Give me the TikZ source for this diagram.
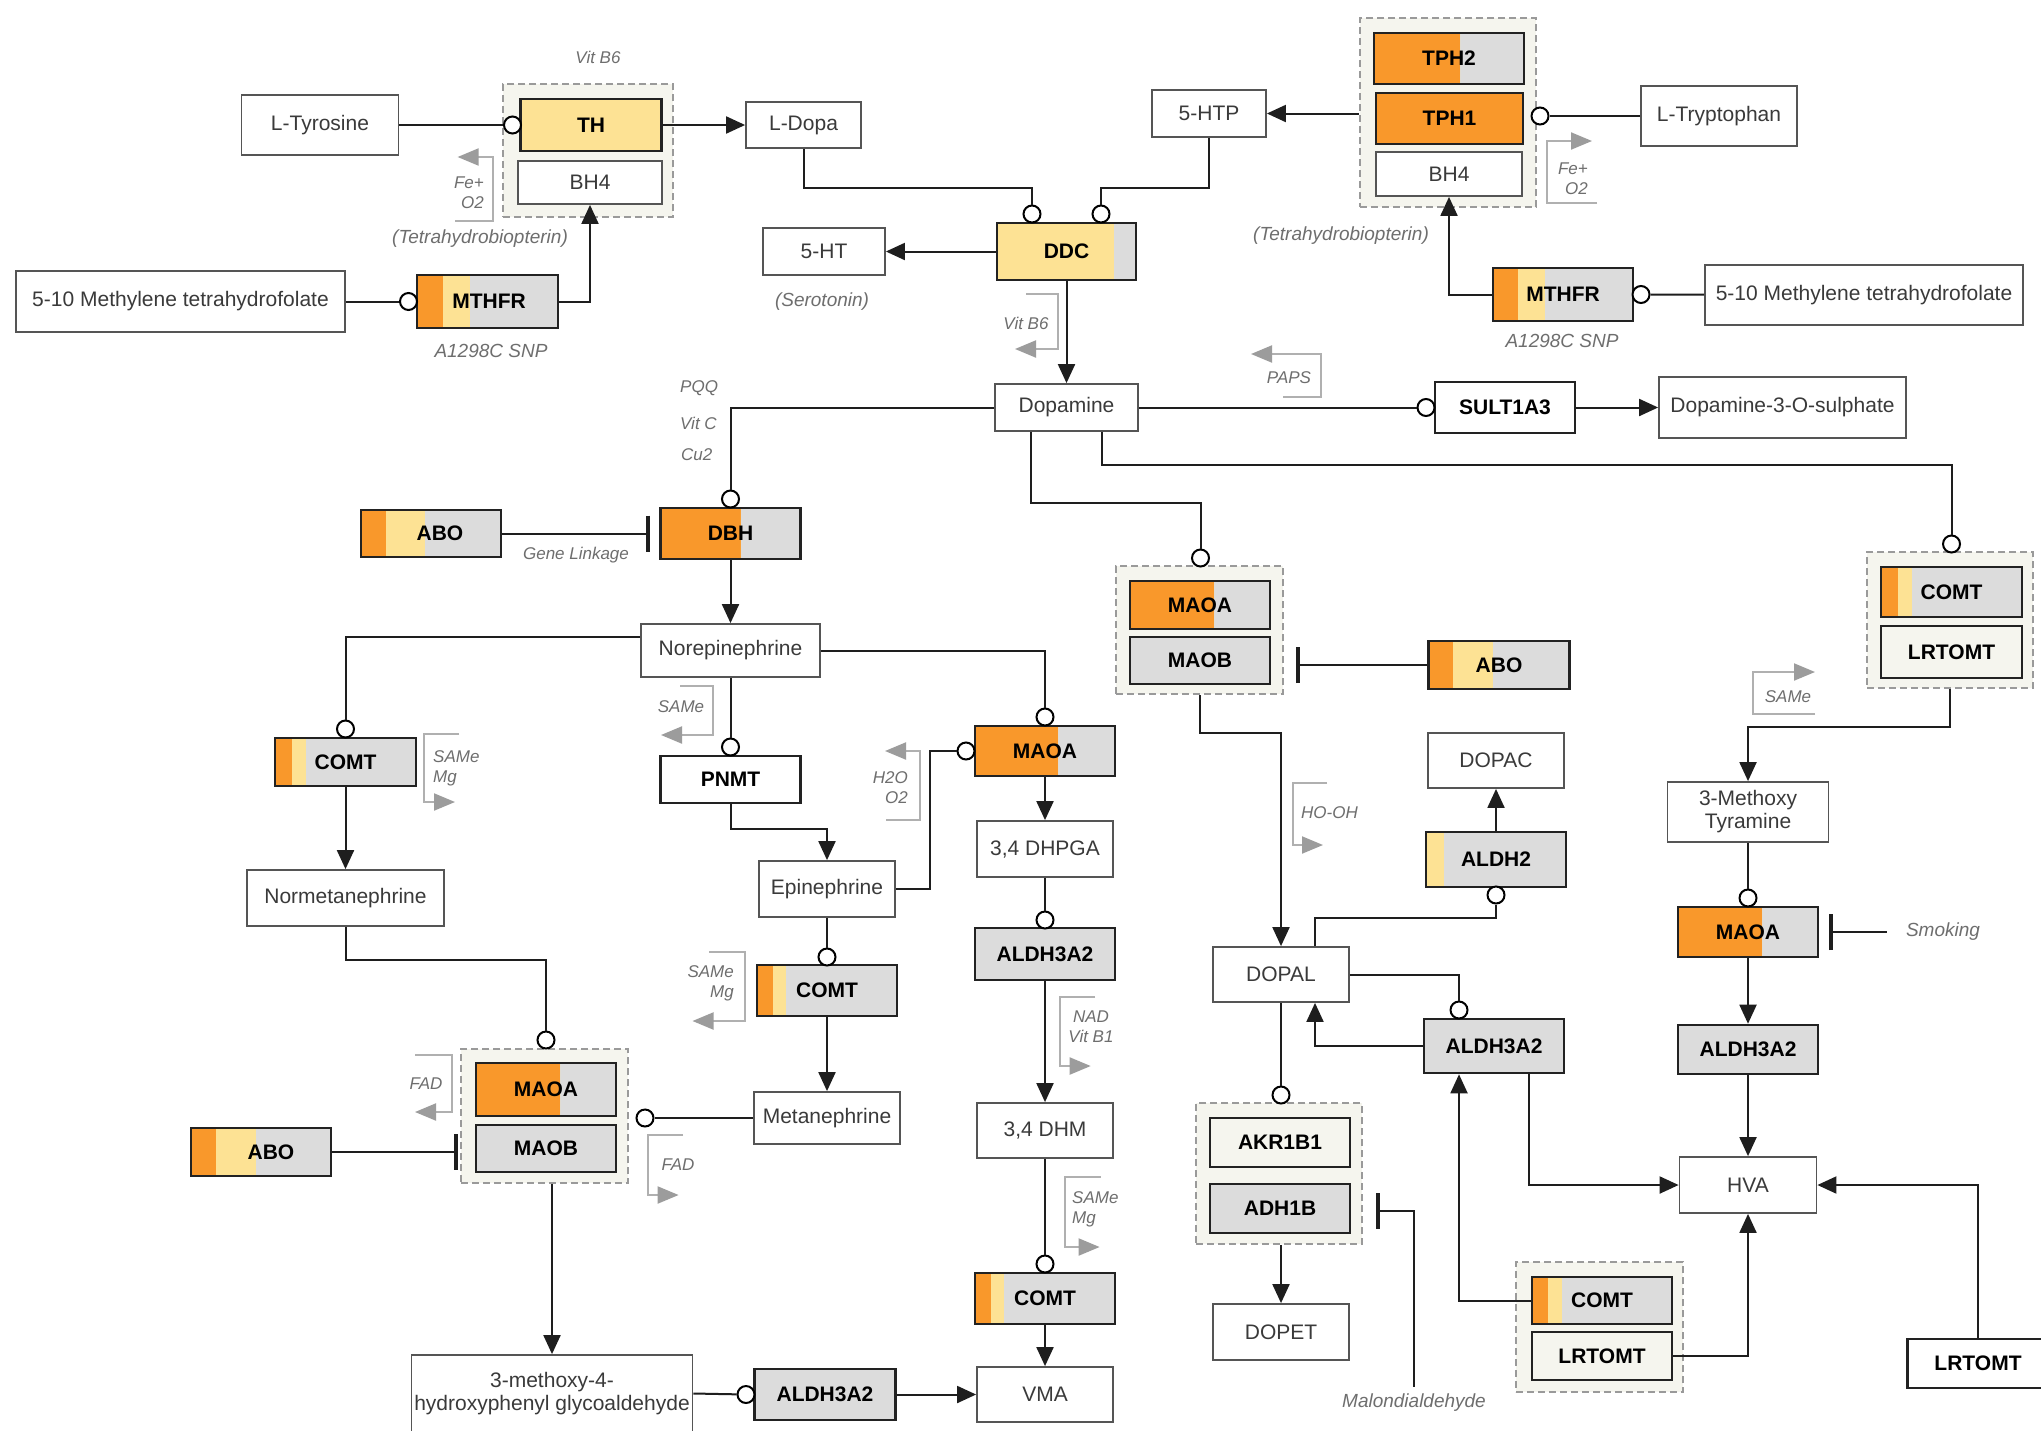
\documentclass[tikz,border=0pt]{standalone}
\usepackage{fontspec}
\setmainfont{Liberation Sans}
\usetikzlibrary{arrows.meta,calc}
\definecolor{cOr}{HTML}{F9982B}
\definecolor{cYe}{HTML}{FDE294}
\definecolor{cGr}{HTML}{DCDCDC}
\definecolor{cBg}{HTML}{F5F5EE}
\definecolor{cDash}{HTML}{9A9A9A}
\definecolor{cMetB}{HTML}{555555}
\definecolor{cGenB}{HTML}{222222}
\definecolor{cTxt}{HTML}{3A3A3A}
\definecolor{cLab}{HTML}{6E6E6E}
\definecolor{cLine}{HTML}{1E1E1E}
\definecolor{cBrk}{HTML}{B0B0B0}
\definecolor{cBrkA}{HTML}{9C9C9C}
\begin{document}
\begin{tikzpicture}[x=1pt,y=-1pt,
  sz/.style 2 args={minimum width=#1pt, minimum height=#2pt},
  met/.style={rectangle, draw=cMetB, line width=1.8pt, fill=white, text=cTxt, font=\fontsize{21}{23}\selectfont, inner sep=0pt, align=center},
  gene/.style={rectangle, draw=cGenB, line width=2.6pt, fill=cGr, text=black, font=\fontsize{21}{23}\selectfont\bfseries, inner sep=0pt},
  stripes/.style 2 args={path picture={
      \fill[cOr] (path picture bounding box.north west) rectangle ([xshift=#1pt]path picture bounding box.south west);
      \fill[cYe] ([xshift=#1pt]path picture bounding box.north west) rectangle ([xshift=#2pt]path picture bounding box.south west);}},
  grp/.style={rectangle, draw=cDash, line width=1.8pt, dash pattern=on 7pt off 4pt, fill=cBg, inner sep=0pt},
  cat/.style={circle, draw=black, line width=2pt, fill=white, minimum size=17pt, inner sep=0pt},
  conn/.style={draw=cLine, line width=2pt},
  arr/.style={conn, -{Triangle[length=19pt,width=17pt]}},
  inh/.style={conn, -{Bar[width=36pt,line width=3.5pt]}},
  cof/.style={draw=cBrk, line width=2pt, -{Triangle[length=21pt,width=17pt,color=cBrkA,fill=cBrkA]}},
  lab/.style={font=\fontsize{17}{20}\selectfont\itshape, text=cLab, inner sep=0pt, align=center},
  labL/.style={font=\fontsize{19}{22}\selectfont\itshape, text=cLab, inner sep=0pt, align=center}
]
\fill[white] (0,0) rectangle (2041,1430);
\useasboundingbox (0,0) rectangle (2041,1430);

% ---------- groups ----------
\node[grp, sz={170}{133}] (gTH) at (588,150.5) {};
\node[grp, sz={176}{189}] (gTPH) at (1448,112.5) {};
\node[grp, sz={167}{128}] (gMAO1) at (1199.5,630) {};
\node[grp, sz={166}{136}] (gCOMTR) at (1950,620) {};
\node[grp, sz={167}{134}] (gMAO2) at (544.5,1116) {};
\node[grp, sz={165.5}{141}] (gAKR) at (1279,1173.5) {};
\node[grp, sz={167}{130}] (gCOMTL) at (1599.5,1327) {};

% ---------- metabolites ----------
\node[met, sz={157}{60}] (ltyr) at (320,125) {L-Tyrosine};
\node[met, sz={115}{46}] (ldopa) at (803.5,125) {L-Dopa};
\node[met, sz={114}{47}] (htp) at (1209,113.5) {5-HTP};
\node[met, sz={156}{60}] (ltrp) at (1719,116) {L-Tryptophan};
\node[met, sz={329}{61}] (mthfL) at (180.5,301.5) {5-10 Methylene tetrahydrofolate};
\node[met, sz={318}{60}] (mthfR) at (1864,295) {5-10 Methylene tetrahydrofolate};
\node[met, sz={122}{47}] (ht) at (824,251.5) {5-HT};
\node[met, sz={143}{47}] (dopa) at (1066.5,407.5) {Dopamine};
\node[met, sz={247}{61}] (d3os) at (1782.5,407.5) {Dopamine-3-O-sulphate};
\node[met, sz={179}{53}] (norepi) at (730.5,650.5) {Norepinephrine};
\node[met, sz={197}{56}] (normet) at (345.5,898) {Normetanephrine};
\node[met, sz={136}{56}] (epi) at (827,889) {Epinephrine};
\node[met, sz={136}{56}] (dhpga) at (1045,849) {3,4 DHPGA};
\node[met, sz={136}{55}] (dopac) at (1496,760.5) {DOPAC};
\node[met, sz={161}{60}] (mty) at (1748,812) {3-Methoxy\\Tyramine};
\node[met, sz={136}{55}] (dopal) at (1281,974.5) {DOPAL};
\node[met, sz={146}{52}] (metan) at (827,1118) {Metanephrine};
\node[met, sz={136}{55}] (dhm) at (1045,1130.5) {3,4 DHM};
\node[met, sz={137}{56}] (hva) at (1748,1185) {HVA};
\node[met, sz={136}{56}] (dopet) at (1281,1332) {DOPET};
\node[met, sz={136}{55}] (vma) at (1045,1394.5) {VMA};
\node[met, sz={281}{77}] (mhpg) at (552,1393.5) {3-methoxy-4-\\hydroxyphenyl glycoaldehyde};
\node[met, sz={144}{43}] (bh4a) at (590,182.5) {BH4};
\node[met, sz={146}{44}] (bh4b) at (1449,174) {BH4};

% ---------- genes ----------
\node[gene, sz={141}{52}, fill=cYe] (th) at (591,125) {TH};
\node[gene, sz={150}{51}, stripes={86}{86}] (tph2) at (1449,58.5) {TPH2};
\node[gene, sz={147}{51}, fill=cOr] (tph1) at (1449.5,118.5) {TPH1};
\node[gene, sz={141}{53}, stripes={26}{53}] (mthfrL) at (487.5,301.5) {\hspace{3pt}MTHFR};
\node[gene, sz={140}{53}, stripes={25}{52}] (mthfrR) at (1563,294.5) {MTHFR};
\node[gene, sz={139}{57}, stripes={0}{117}] (ddc) at (1066.5,251.5) {DDC};
\node[gene, sz={140}{51}, fill=white] (sult) at (1505,407.5) {SULT1A3};
\node[gene, sz={140}{47}, stripes={25}{64}] (aboA) at (431,533.5) {\hspace{18pt}ABO};
\node[gene, sz={140}{51}, stripes={80}{80}] (dbh) at (730.5,533.5) {DBH};
\node[gene, sz={141}{48}, stripes={17}{31}] (comtA) at (345.5,762) {COMT};
\node[gene, sz={140}{47}, fill=white] (pnmt) at (730.5,779.5) {PNMT};
\node[gene, sz={140}{50}, stripes={83}{83}] (maoaM) at (1045,751) {MAOA};
\node[gene, sz={140}{52}] (aldhM) at (1045,954) {ALDH3A2};
\node[gene, sz={140}{48}, stripes={84}{84}] (maoaG) at (1200,605) {MAOA};
\node[gene, sz={140}{47}] (maobG) at (1200,660.5) {MAOB};
\node[gene, sz={141}{48}, stripes={24}{64}] (aboB) at (1499,665) {ABO};
\node[gene, sz={141}{50}, stripes={17}{30.5}] (comtR) at (1951.5,592) {COMT};
\node[gene, sz={141}{52}, fill=cBg] (lrtR) at (1951.5,652) {LRTOMT};
\node[gene, sz={140}{55}, stripes={0}{18}] (aldh2) at (1496,859.5) {ALDH2};
\node[gene, sz={140}{50}, stripes={84}{84}] (maoaR) at (1748,932) {MAOA};
\node[gene, sz={140}{51}, stripes={16}{29}] (comtM) at (827,990.5) {COMT};
\node[gene, sz={140}{53}, stripes={84}{84}] (maoaL) at (546,1089.5) {MAOA};
\node[gene, sz={140}{47}] (maobL) at (546,1148.5) {MAOB};
\node[gene, sz={140}{48}, stripes={25}{65}] (aboC) at (261,1152) {\hspace{20pt}ABO};
\node[gene, sz={140}{54}] (aldhD) at (1494,1046) {ALDH3A2};
\node[gene, sz={140}{49}] (aldhR) at (1748,1049.5) {ALDH3A2};
\node[gene, sz={140}{49}, fill=cBg] (akr) at (1280,1142.5) {AKR1B1};
\node[gene, sz={140}{49}] (adh) at (1280,1208.5) {ADH1B};
\node[gene, sz={140}{51}, stripes={16}{28.5}] (comtB) at (1045,1298.5) {COMT};
\node[gene, sz={141}{51}] (aldhB) at (825,1394.5) {ALDH3A2};
\node[gene, sz={140}{47}, stripes={16}{29.5}] (comtL) at (1602,1300.5) {COMT};
\node[gene, sz={140}{48}, fill=cBg] (lrtL) at (1602,1356) {LRTOMT};
\node[gene, sz={141}{49}, fill=white] (lrtS) at (1978,1363.5) {LRTOMT};

% ---------- labels ----------
\node[lab] (lVitTop) at (598,57) {Vit B6};
\node[labL] (lTetA) at (480,239) {(Tetrahydrobiopterin)};
\node[labL] (lSnpA) at (491,351) {A1298C SNP};
\node[labL] (lSer) at (822,302) {(Serotonin)};
\node[labL] (lTetB) at (1341,236) {(Tetrahydrobiopterin)};
\node[labL] (lSnpB) at (1562,341) {A1298C SNP};
\node[lab, anchor=west] (lPQQ) at (680,388) {PQQ};
\node[lab, anchor=west] (lVitC) at (680,423) {Vit C};
\node[lab, anchor=west] (lCu) at (681,455) {Cu2};
\node[lab] (lGene) at (576,555) {Gene Linkage};
\node[labL] (smk) at (1943,932) {Smoking};
\node[labL] (mal) at (1414,1403) {Malondialdehyde};
\node[lab, align=right, anchor=east] (cfFeA) at (484,193) {Fe+\\O2};
\node[lab, align=right, anchor=east] (cfFeB) at (1588,179) {Fe+\\O2};
\node[lab] (cfB6) at (1026,323) {Vit B6};
\node[lab] (cfPAPS) at (1289,378) {PAPS};
\node[lab] (cfSAMeN) at (681,707) {SAMe};
\node[lab, align=left, anchor=west] (cfSAMeA) at (433,768) {SAMe\\Mg};
\node[lab, align=right, anchor=east] (cfH2O) at (908,788) {H2O\\O2};
\node[lab] (cfHOOH) at (1329.5,813) {HO-OH};
\node[lab] (cfSAMeR) at (1788,697) {SAMe};
\node[lab, align=right, anchor=east] (cfSAMeM) at (734,983) {SAMe\\Mg};
\node[lab] (cfNAD) at (1091,1027) {NAD\\Vit B1};
\node[lab, align=left, anchor=west] (cfSAMeB) at (1072,1209.5) {SAMe\\Mg};
\node[lab] (cfFADL) at (426,1084) {FAD};
\node[lab] (cfFADR) at (678,1165) {FAD};

% ---------- catalysis circles ----------
\node[cat] (cTH) at (512.5,125) {};
\node[cat] (cMTL) at (408.5,301.5) {};
\node[cat] (cDDC1) at (1032,214) {};
\node[cat] (cDDC2) at (1101,214) {};
\node[cat] (cTPH) at (1540,116) {};
\node[cat] (cMTR) at (1641,294.5) {};
\node[cat] (cSULT) at (1426,407.5) {};
\node[cat] (cDBH) at (730.5,499) {};
\node[cat] (cCOMTA) at (345.5,729) {};
\node[cat] (cPNMT) at (730.5,747) {};
\node[cat] (cMAOM1) at (1045,717) {};
\node[cat] (cMAOM2) at (966,751) {};
\node[cat] (cALDM) at (1045,920) {};
\node[cat] (cMAOG) at (1200.5,558) {};
\node[cat] (cCOMTR) at (1951.5,544) {};
\node[cat] (cALDH2) at (1496,895) {};
\node[cat] (cMAOR) at (1748,898) {};
\node[cat] (cCOMTM) at (827,957) {};
\node[cat] (cMAOL) at (546,1040) {};
\node[cat] (cMET) at (645,1118) {};
\node[cat] (cALDD) at (1459,1010) {};
\node[cat] (cAKR) at (1281,1095) {};
\node[cat] (cCOMTB) at (1045,1264) {};
\node[cat] (cALDB) at (746,1394.5) {};

\coordinate (barA) at (649.5,533.5);
\coordinate (barB) at (1296,665);
\coordinate (barC) at (457.6,1152);
\coordinate (barD) at (1376,1210.7);
\coordinate (barE) at (1829,932);

% ---------- connectors ----------
\draw[conn] (ltyr) -- (cTH);
\draw[arr] (th) -- (ldopa);
\draw[conn] (mthfL) -- (cMTL);
\draw[arr] (mthfrL.east) -| (bh4a.south);
\draw[conn] (ldopa.south) |- (1032,188) -- (cDDC1);
\draw[conn] (htp.south) |- (1101,188) -- (cDDC2);
\draw[arr] (ddc) -- (ht);
\draw[arr] (ddc) -- (dopa);
\draw[arr] (htp.east -| gTPH.west) -- (htp.east);
\draw[conn] (ltrp) -- (cTPH);
\draw[conn] (mthfR) -- (cMTR);
\draw[arr] (mthfrR.west) -| (bh4b.south);
\draw[conn] (dopa) -- (cSULT);
\draw[arr] (sult) -- (d3os);
\draw[conn] (dopa.west) -| (cDBH);
\draw[arr] (dbh) -- (norepi);
\draw[inh] (aboA) -- (barA);
\draw[conn] ([yshift=13.5pt]norepi.west) -| (cCOMTA);
\draw[conn] (norepi.east) -| (cMAOM1);
\draw[conn] (norepi) -- (cPNMT);
\draw[arr] (comtA) -- (normet);
\draw[arr] (pnmt.south) |- (827,829) -- (epi.north);
\draw[conn] (epi.east) -- (929.5,889) |- (cMAOM2);
\draw[arr] (maoaM) -- (dhpga);
\draw[conn] (dhpga) -- (cALDM);
\draw[arr] (aldhM) -- (dhm);
\draw[conn] (dhm) -- (cCOMTB);
\draw[arr] (comtB) -- (vma);
\draw[conn] (epi) -- (cCOMTM);
\draw[arr] (comtM) -- (metan);
\draw[conn] (metan) -- (cMET);
\draw[conn] (normet.south) |- (546,960) -- (cMAOL);
\draw[inh] (aboC) -- (barC);
\draw[arr] (mhpg.north |- gMAO2.south) -- (mhpg.north);
\draw[conn] (mhpg.east) -- (cALDB);
\draw[arr] (aldhB) -- (vma);
\draw[conn] ([xshift=-35.5pt]dopa.south) |- (1200.5,503) -- (cMAOG);
\draw[conn] ([xshift=35.5pt]dopa.south) |- (1951.5,465) -- (cCOMTR);
\draw[inh] (aboB) -- (barB);
\draw[arr] (gMAO1.south) |- (1281,733) -- (dopal.north);
\draw[conn] ([xshift=34pt]dopal.north) |- (1496,918) -- (cALDH2);
\draw[arr] (aldh2) -- (dopac);
\draw[conn] (dopal.east) -| (cALDD);
\draw[arr] (aldhD.west) -| ([xshift=34pt]dopal.south);
\draw[conn] (dopal) -- (cAKR);
\draw[arr] (dopet.north |- gAKR.south) -- (dopet.north);
\draw[inh] ([yshift=7pt]mal.north) |- (barD);
\draw[arr] (comtL.west) -| ([xshift=-35pt]aldhD.south);
\draw[arr] ([xshift=34.5pt]aldhD.south) |- (hva.west);
\draw[arr] (lrtL.east) -| (hva.south);
\draw[arr] (lrtS.north) |- (hva.east);
\draw[arr] (maoaR) -- (aldhR);
\draw[arr] (aldhR) -- (hva);
\draw[conn] (mty) -- (cMAOR);
\draw[arr] (gCOMTR.south) |- (1748,727) -- (mty.north);
\draw[inh] ([xshift=-19pt]smk.west) -- (barE);

% ---------- cofactor brackets ----------
\draw[cof] (455,221) -- (493,221) -- (493,157) -- (457.6,157);
\draw[cof] (1597,203) -- (1547,203) -- (1547,141) -- (1592,141);
\draw[cof] (1026,294) -- (1058,294) -- (1058,349) -- (1015,349);
\draw[cof] (1283,397) -- (1321,397) -- (1321,354) -- (1251,354);
\draw[cof] (680,686) -- (713,686) -- (713,735) -- (661,735);
\draw[cof] (459,734) -- (424,734) -- (424,802) -- (455,802);
\draw[cof] (886,820) -- (920,820) -- (920,751) -- (885,751);
\draw[cof] (1327,783) -- (1292.5,783) -- (1292.5,845) -- (1323,845);
\draw[cof] (1815,714) -- (1753,714) -- (1753,672) -- (1815,672);
\draw[cof] (709,952) -- (745,952) -- (745,1021) -- (692.5,1021);
\draw[cof] (1095,997) -- (1059.5,997) -- (1059.5,1066) -- (1090.7,1066);
\draw[cof] (1100.5,1177) -- (1065,1177) -- (1065,1247) -- (1099.6,1247);
\draw[cof] (415,1055) -- (452,1055) -- (452,1112) -- (415,1112);
\draw[cof] (683,1135) -- (648,1135) -- (648,1195) -- (678.6,1195);
\end{tikzpicture}
\end{document}
